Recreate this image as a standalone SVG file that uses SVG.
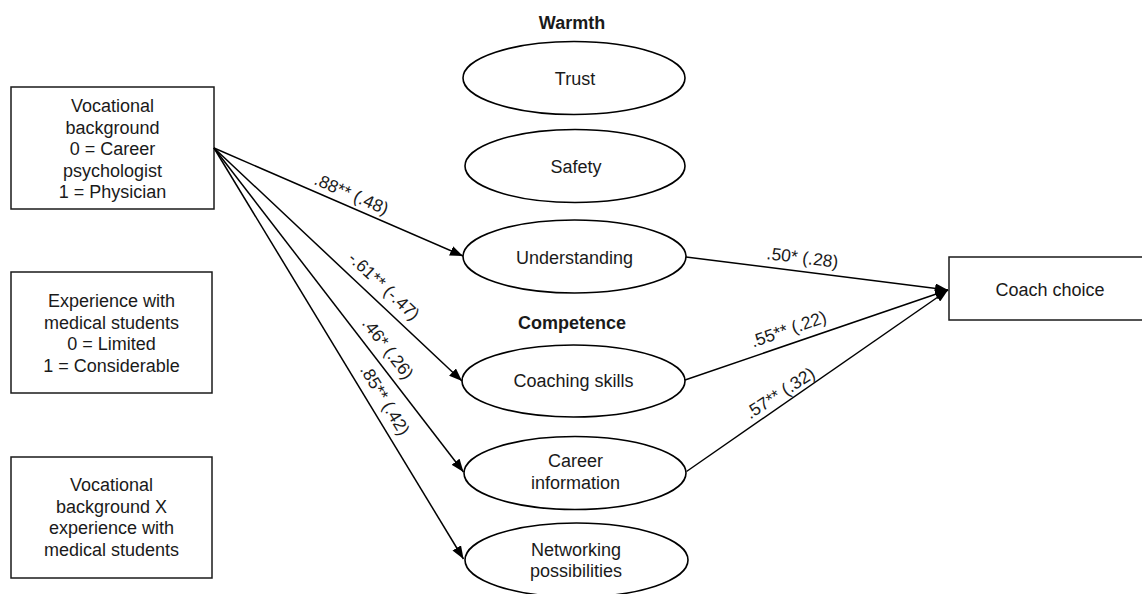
<svg xmlns="http://www.w3.org/2000/svg" width="1142" height="594" viewBox="0 0 1142 594">
<style>
text{font-family:"Liberation Sans",Arial,sans-serif;font-size:18px;fill:#1a1a1a;text-anchor:middle}
.b{font-weight:bold}
.box{fill:#fff;stroke:#1a1a1a;stroke-width:1.5}
.ell{fill:#fff;stroke:#000;stroke-width:1.6}
.con line{stroke:#000;stroke-width:1.5;marker-end:url(#arr)}
.lbl{font-size:17.5px}
</style>
<defs>
<marker id="arr" markerWidth="13" markerHeight="10" refX="13" refY="5" orient="auto" markerUnits="userSpaceOnUse"><path d="M0,0 L13,5 L0,10 z" fill="#000"/></marker>
</defs>
<rect width="1142" height="594" fill="#fff"/>
<g id="vocational">
<rect class="box" x="11" y="87" width="203" height="122"/>
<text x="112.5" y="112">Vocational</text>
<text x="112.5" y="133.5">background</text>
<text x="112.5" y="155">0 = Career</text>
<text x="112.5" y="176.5">psychologist</text>
<text x="112.5" y="198">1 = Physician</text>
</g>
<g id="experience">
<rect class="box" x="11" y="272" width="201" height="121"/>
<text x="111.5" y="307">Experience with</text>
<text x="111.5" y="328.5">medical students</text>
<text x="111.5" y="350">0 = Limited</text>
<text x="111.5" y="371.5">1 = Considerable</text>
</g>
<g id="interaction">
<rect class="box" x="11" y="457" width="201" height="121"/>
<text x="111.5" y="491">Vocational</text>
<text x="111.5" y="512.5">background X</text>
<text x="111.5" y="534">experience with</text>
<text x="111.5" y="555.5">medical students</text>
</g>
<text class="b" x="572" y="29">Warmth</text>
<text class="b" x="572" y="329">Competence</text>
<g id="trust"><ellipse class="ell" cx="574" cy="78" rx="111" ry="36.5"/><text x="575" y="85">Trust</text></g>
<g id="safety"><ellipse class="ell" cx="575" cy="166" rx="110" ry="36.5"/><text x="576" y="173">Safety</text></g>
<g id="understanding"><ellipse class="ell" cx="574.5" cy="256.5" rx="111.5" ry="36.5"/><text x="574.5" y="263.5">Understanding</text></g>
<g id="coaching"><ellipse class="ell" cx="573.5" cy="381" rx="111.5" ry="36"/><text x="573.5" y="387">Coaching skills</text></g>
<g id="career"><ellipse class="ell" cx="575" cy="473" rx="111" ry="36.5"/><text x="575.5" y="467">Career</text><text x="575.5" y="489">information</text></g>
<g id="networking"><ellipse class="ell" cx="576.5" cy="560" rx="111.5" ry="37"/><text x="576" y="555.5">Networking</text><text x="576" y="577">possibilities</text></g>
<g id="coach"><rect class="box" x="949" y="257" width="202" height="63"/><text x="1050" y="296">Coach choice</text></g>
<g class="con" id="connectors">
<line x1="214" y1="148" x2="463" y2="256"/>
<line x1="214" y1="148" x2="462" y2="381"/>
<line x1="214" y1="148" x2="463.5" y2="472"/>
<line x1="214" y1="148" x2="463.5" y2="559"/>
<line x1="686" y1="257" x2="948" y2="290"/>
<line x1="685" y1="380" x2="948" y2="290"/>
<line x1="686.5" y1="471.5" x2="948" y2="290"/>
</g>
<g id="labels">
<text class="lbl" transform="translate(351.5,194) rotate(23.4)" y="6">.88** (.48)</text>
<text class="lbl" transform="translate(384,286) rotate(43.2)" y="6">-.61** (-.47)</text>
<text class="lbl" transform="translate(388,348.5) rotate(52.5)" y="6">.46* (.26)</text>
<text class="lbl" transform="translate(385,400) rotate(58.7)" y="6">.85** (.42)</text>
<text class="lbl" transform="translate(802.5,257.5) rotate(7)" y="6">.50* (.28)</text>
<text class="lbl" transform="translate(788.5,329) rotate(-19)" y="6">.55** (.22)</text>
<text class="lbl" transform="translate(780,393) rotate(-33)" y="6">.57** (.32)</text>
</g>
</svg>
